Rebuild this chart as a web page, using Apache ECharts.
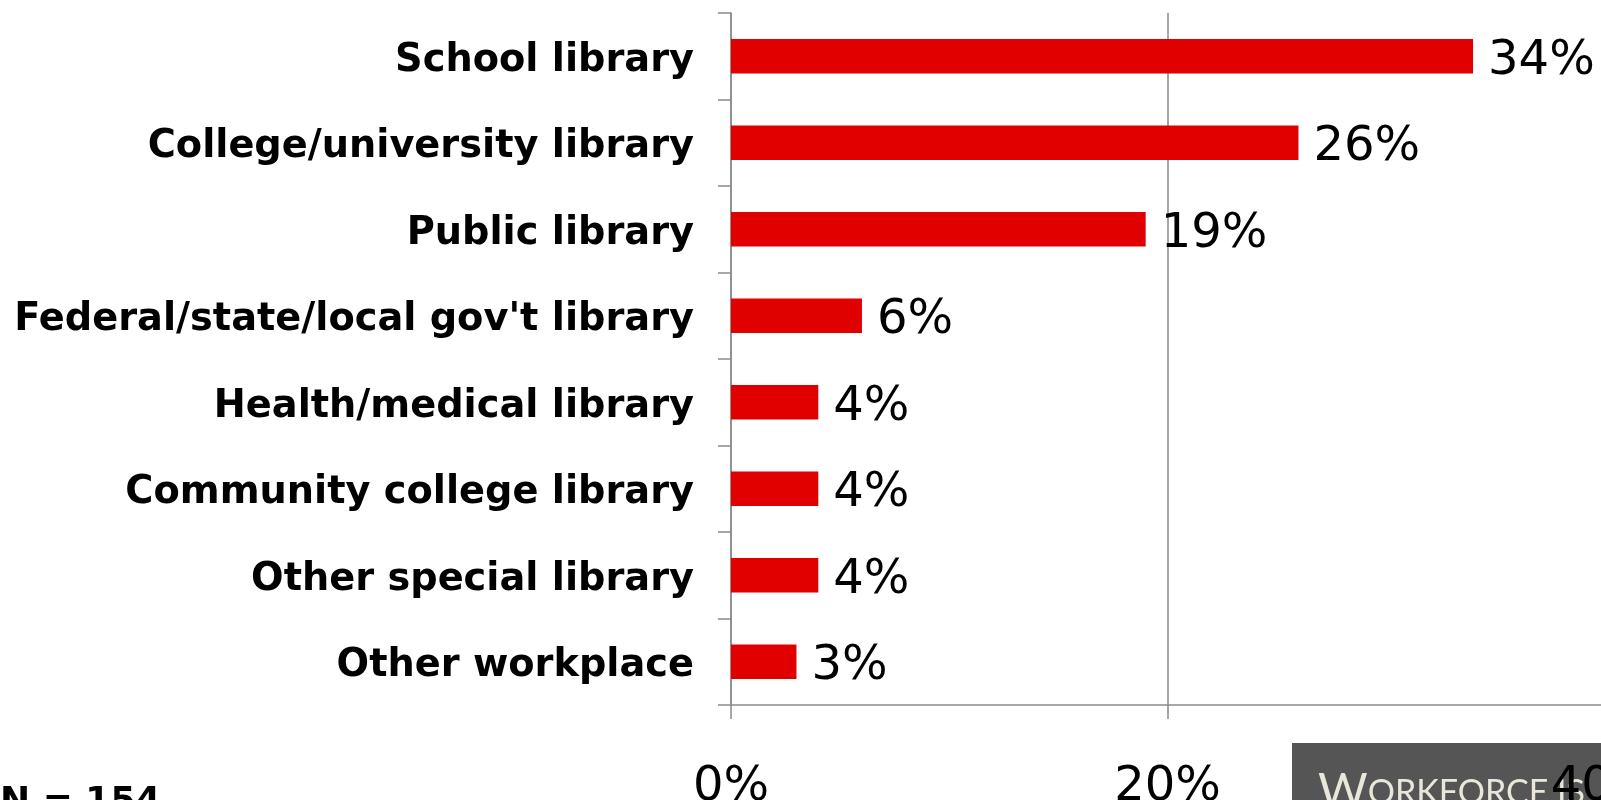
<!DOCTYPE html>
<html>
<head>
<meta charset="utf-8">
<script src="https://cdn.jsdelivr.net/npm/echarts@6/dist/echarts.min.js"></script>
<style>
html,body{margin:0;padding:0;background:#fff;}
#chart{width:1601px;height:800px;}
</style>
</head>
<body>
<div id="chart"></div>
<script>
var categories = ['School library', 'College/university library', 'Public library', "Federal/state/local gov't library", 'Health/medical library', 'Community college library', 'Other special library', 'Other workplace'];
var values = [34, 26, 19, 6, 4, 4, 4, 3];
var xMin = 0, xMax = 40, xStep = 20;
var footnote = 'N = 154';
var logoText = ['W', 'ORKFORCE IS'];

var chart = echarts.init(document.getElementById('chart'));
var axisGrey = '#8a8a8a';
chart.setOption({
  animation: false,
  backgroundColor: '#ffffff',
  grid: { left: 731, right: -3, top: 13, bottom: 95, containLabel: false, outerBoundsMode: 'none' },
  xAxis: {
    type: 'value', min: xMin, max: xMax, interval: xStep,
    axisLine: { show: true, lineStyle: { color: axisGrey, width: 1.5 } },
    axisTick: { show: true, inside: false, length: 14, lineStyle: { color: axisGrey, width: 1.5 } },
    splitLine: { show: true, lineStyle: { color: axisGrey, width: 1.5 } },
    axisLabel: { formatter: '{value}%', color: '#000', fontFamily: 'DejaVu Sans', fontSize: 48, margin: 59, hideOverlap: false, showMaxLabel: true }
  },
  yAxis: {
    type: 'category', data: categories, inverse: true,
    axisLine: { show: true, lineStyle: { color: axisGrey, width: 1.5 } },
    axisTick: { show: true, inside: false, length: 13, alignWithLabel: false, lineStyle: { color: axisGrey, width: 1.5 } },
    axisLabel: { color: '#000', fontFamily: 'DejaVu Sans', fontWeight: 'bold', fontSize: 38.3, margin: 37, verticalAlign: 'top', lineHeight: 9 }
  },
  series: [{
    type: 'bar', data: values, barCategoryGap: '60%',
    itemStyle: { color: '#E10000' },
    label: { show: true, position: 'right', distance: 15, offset: [0, 5], formatter: '{c}%', color: '#000', fontFamily: 'DejaVu Sans', fontSize: 48 }
  }],
  graphic: [
    { type: 'rect', left: 1292, top: 743, shape: { width: 320, height: 60 }, style: { fill: '#555555' }, z: -1 },
    { type: 'text', left: 1318, top: 769, z: -1, style: { text: '{a|' + logoText[0] + '}{b|' + logoText[1] + '}', rich: { a: { fontSize: 48, fontFamily: 'Lato', fill: '#e9e6da' }, b: { fontSize: 34, fontFamily: 'Lato', fill: '#e9e6da' } } } },
    { type: 'text', left: 0, top: 785, style: { text: footnote, fontSize: 36, fontWeight: 'bold', fontFamily: 'DejaVu Sans', fill: '#000' } }
  ]
});
</script>
</body>
</html>
